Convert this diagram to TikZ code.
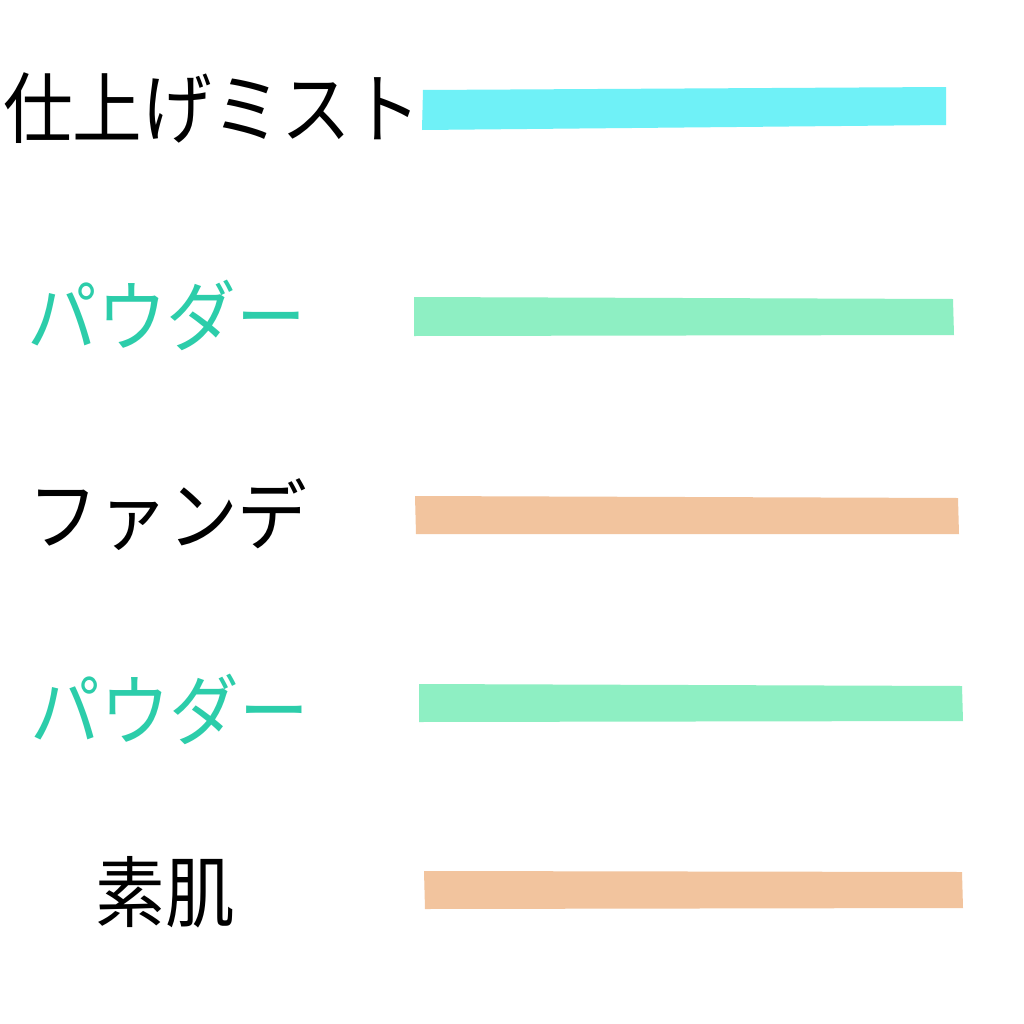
\documentclass[tikz,border=0pt]{standalone}
\usepackage{fontspec}
\newfontfamily\cjk{Noto Sans CJK JP}
\definecolor{mist}{HTML}{6FF1F7}
\definecolor{powder}{HTML}{8EEFC3}
\definecolor{found}{HTML}{F2C49E}
\definecolor{tealtext}{HTML}{2CCDAA}
\tikzset{
  lbl/.style={font=\cjk\fontsize{22}{22}\selectfont, inner sep=0pt, anchor=center, xscale=0.9},
}
\begin{document}
\begin{tikzpicture}[x=0.01cm,y=-0.01cm]
\useasboundingbox (0,0) rectangle (1024,1024);
\fill[white] (0,0) rectangle (1024,1024);
% bars
\fill[mist] (423,90) -- (946,87) -- (946,125) -- (422,130) -- cycle;
\fill[powder] (414,297) -- (953,299) -- (954,335) -- (414,336) -- cycle;
\fill[found] (415,496) -- (958,498) -- (959,534) -- (416,534) -- cycle;
\fill[powder] (419,684) -- (962,686) -- (963,721) -- (419,722) -- cycle;
\fill[found] (424,871) -- (962,872) -- (963,908) -- (425,909) -- cycle;
% labels
\node[lbl] (mist) at (212,108) {仕上げミスト};
\node[lbl, text=tealtext] (powder1) at (167,315) {パウダー};
\node[lbl] (fande) at (168,515) {ファンデ};
\node[lbl, text=tealtext] (powder2) at (170,709) {パウダー};
\node[lbl] (suhada) at (165,892) {素肌};
\end{tikzpicture}
\end{document}
